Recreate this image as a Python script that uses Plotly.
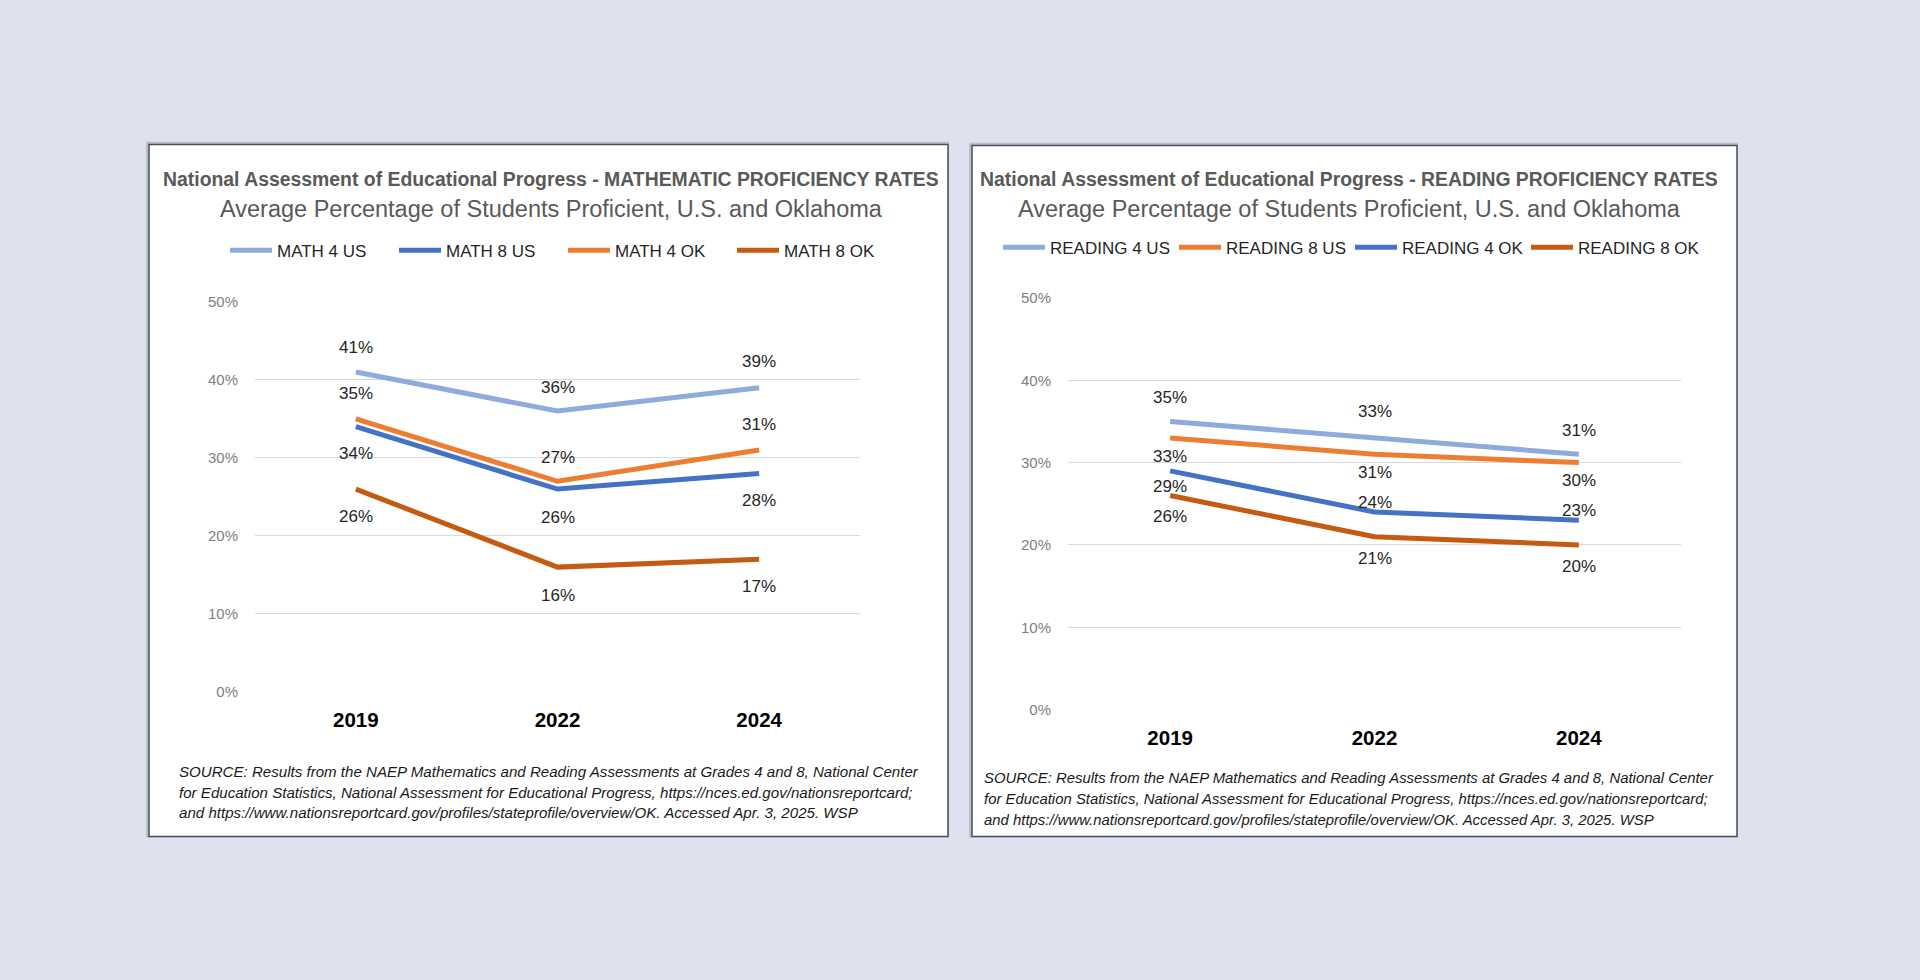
import plotly.graph_objects as go

W, H = 1920, 980

# ---------------- data ----------------
years = ["2019", "2022", "2024"]
math_4_us = [41, 36, 39]
math_8_us = [34, 26, 28]
math_4_ok = [35, 27, 31]
math_8_ok = [26, 16, 17]
reading_4_us = [35, 33, 31]
reading_8_us = [33, 31, 30]
reading_4_ok = [29, 24, 23]
reading_8_ok = [26, 21, 20]
y_ticks = [0, 10, 20, 30, 40, 50]
y_tick_labels = [f"{v}%" for v in y_ticks]

# ---------------- styles ----------------
LIGHT_BLUE = "#8faadc"
BLUE = "#4472c4"
ORANGE = "#ed7d31"
DARK_ORANGE = "#c55a11"
BG = "#dfe2ee"
FONT = "Liberation Sans, Arial, sans-serif"

def px_x(p):
    return p / W

def px_y(p):
    return 1 - p / H

# (name, values, colour, label y-shift in px per point)
left_series = [
    ("MATH 4 US", math_4_us, LIGHT_BLUE, [25, 24, 26]),
    ("MATH 8 US", math_8_us, BLUE, [-27, -28, -27]),
    ("MATH 4 OK", math_4_ok, ORANGE, [25, 24, 26]),
    ("MATH 8 OK", math_8_ok, DARK_ORANGE, [-27, -28, -27]),
]
right_series = [
    ("READING 4 US", reading_4_us, LIGHT_BLUE, [24, 26, 24]),
    ("READING 8 US", reading_8_us, ORANGE, [-19, -18, -18]),
    ("READING 4 OK", reading_4_ok, BLUE, [-16, 10, 10]),
    ("READING 8 OK", reading_8_ok, DARK_ORANGE, [-21, -22, -22]),
]

fig = go.Figure()
annotations = []

for (name, vals, color, shifts), (xa, ya, leg) in [
    *[(s, ("x", "y", "legend")) for s in left_series],
    *[(s, ("x2", "y2", "legend2")) for s in right_series],
]:
    fig.add_trace(go.Scatter(
        x=years, y=vals, name=name, mode="lines",
        line=dict(color=color, width=5),
        xaxis=xa, yaxis=ya, legend=leg, hoverinfo="skip",
    ))
    for i, (yv, sh) in enumerate(zip(vals, shifts)):
        annotations.append(dict(
            x=i, y=yv, xref=xa, yref=ya, text=f"{yv}%", showarrow=False,
            yshift=sh, font=dict(family=FONT, size=17, color="#262626"),
        ))

# panel geometry (pixels)
panels = [
    dict(x0=149, x1=948, y0=138, y1=842, cx=551, ty=173, sy=204,
         t1="National Assessment of Educational Progress - MATHEMATIC PROFICIENCY RATES"),
    dict(x0=972, x1=1737, y0=139, y1=842, cx=1349, ty=173, sy=204,
         t1="National Assessment of Educational Progress - READING PROFICIENCY RATES"),
]
subtitle = "Average Percentage of Students Proficient, U.S. and Oklahoma"
source_lines = [
    "SOURCE: Results from the NAEP Mathematics and Reading Assessments at Grades 4 and 8, National Center",
    "for Education Statistics, National Assessment for Educational Progress, https://nces.ed.gov/nationsreportcard;",
    "and https://www.nationsreportcard.gov/profiles/stateprofile/overview/OK. Accessed Apr. 3, 2025. WSP",
]
source_pos = [(177, [776, 797, 818], 15.1), (982, [783, 804, 825], 14.9)]

shapes = []
for p in panels:
    shapes.append(dict(type="rect", xref="paper", yref="paper", layer="below",
                       x0=px_x(p["x0"] - 3), x1=px_x(p["x1"] + 1),
                       y0=px_y(p["y1"] + 1), y1=px_y(p["y0"] - 3),
                       fillcolor="rgba(60,65,80,0.22)", line=dict(width=0)))
    shapes.append(dict(type="rect", xref="paper", yref="paper", layer="below",
                       x0=px_x(p["x0"]), x1=px_x(p["x1"]),
                       y0=px_y(p["y1"]), y1=px_y(p["y0"]),
                       fillcolor="white", line=dict(color="#4a4f5e", width=1.5)))
    annotations.append(dict(x=px_x(p["cx"]), y=px_y(p["ty"]), xref="paper", yref="paper",
                            text="<b>" + p["t1"] + "</b>", showarrow=False,
                            xanchor="center", yanchor="middle",
                            font=dict(family=FONT, size=19.4, color="#595959")))
    annotations.append(dict(x=px_x(p["cx"]), y=px_y(p["sy"]), xref="paper", yref="paper",
                            text=subtitle, showarrow=False,
                            xanchor="center", yanchor="middle",
                            font=dict(family=FONT, size=23.5, color="#595959")))

for (sx, sys_, fs) in source_pos:
    for line, sy in zip(source_lines, sys_):
        annotations.append(dict(x=px_x(sx), y=px_y(sy), xref="paper", yref="paper",
                                text="<i>" + line + "</i>", showarrow=False,
                                xanchor="left", yanchor="middle",
                                font=dict(family=FONT, size=fs, color="#1a1a1a")))

def xaxis(dom, anchor):
    return dict(domain=[px_x(dom[0]), px_x(dom[1])], type="category", anchor=anchor,
                range=[-0.5, 2.5], showgrid=False, zeroline=False, showline=False,
                ticks="", ticklabelstandoff=14, fixedrange=True,
                tickfont=dict(family=FONT, size=20.5, color="#000000", weight="bold"))

def yaxis(pix0, pix50, anchor):
    return dict(domain=[px_y(pix0), px_y(pix50)], range=[0, 50],
                tickmode="array", tickvals=y_ticks, ticktext=y_tick_labels,
                showgrid=True, gridcolor="#d9d9d9", gridwidth=1.3,
                zeroline=False, showline=False,
                ticks="", ticklabelstandoff=16, anchor=anchor, fixedrange=True,
                tickfont=dict(family=FONT, size=15, color="#808080"))

leg_common = dict(orientation="h", xanchor="left", yanchor="middle",
                  entrywidthmode="pixels", bgcolor="rgba(0,0,0,0)",
                  itemwidth=42,
                  font=dict(family=FONT, size=17, color="#262626"),
                  itemclick=False, itemdoubleclick=False)

fig.update_layout(
    width=W, height=H,
    margin=dict(l=0, r=0, t=0, b=0),
    paper_bgcolor=BG, plot_bgcolor="rgba(0,0,0,0)",
    showlegend=True,
    xaxis=xaxis((255, 860), "y"),
    yaxis=yaxis(695, 298, "x"),
    xaxis2=xaxis((1068, 1681), "y2"),
    yaxis2=yaxis(713, 294, "x2"),
    legend=dict(**leg_common, x=px_x(225), y=px_y(246), entrywidth=112),
    legend2=dict(**leg_common, x=px_x(998), y=px_y(243), entrywidth=119),
    shapes=shapes,
    annotations=annotations,
)

fig.write_html("out.html", config={"displayModeBar": False},
               post_script="document.body.style.margin='0';document.body.style.overflow='hidden';")
